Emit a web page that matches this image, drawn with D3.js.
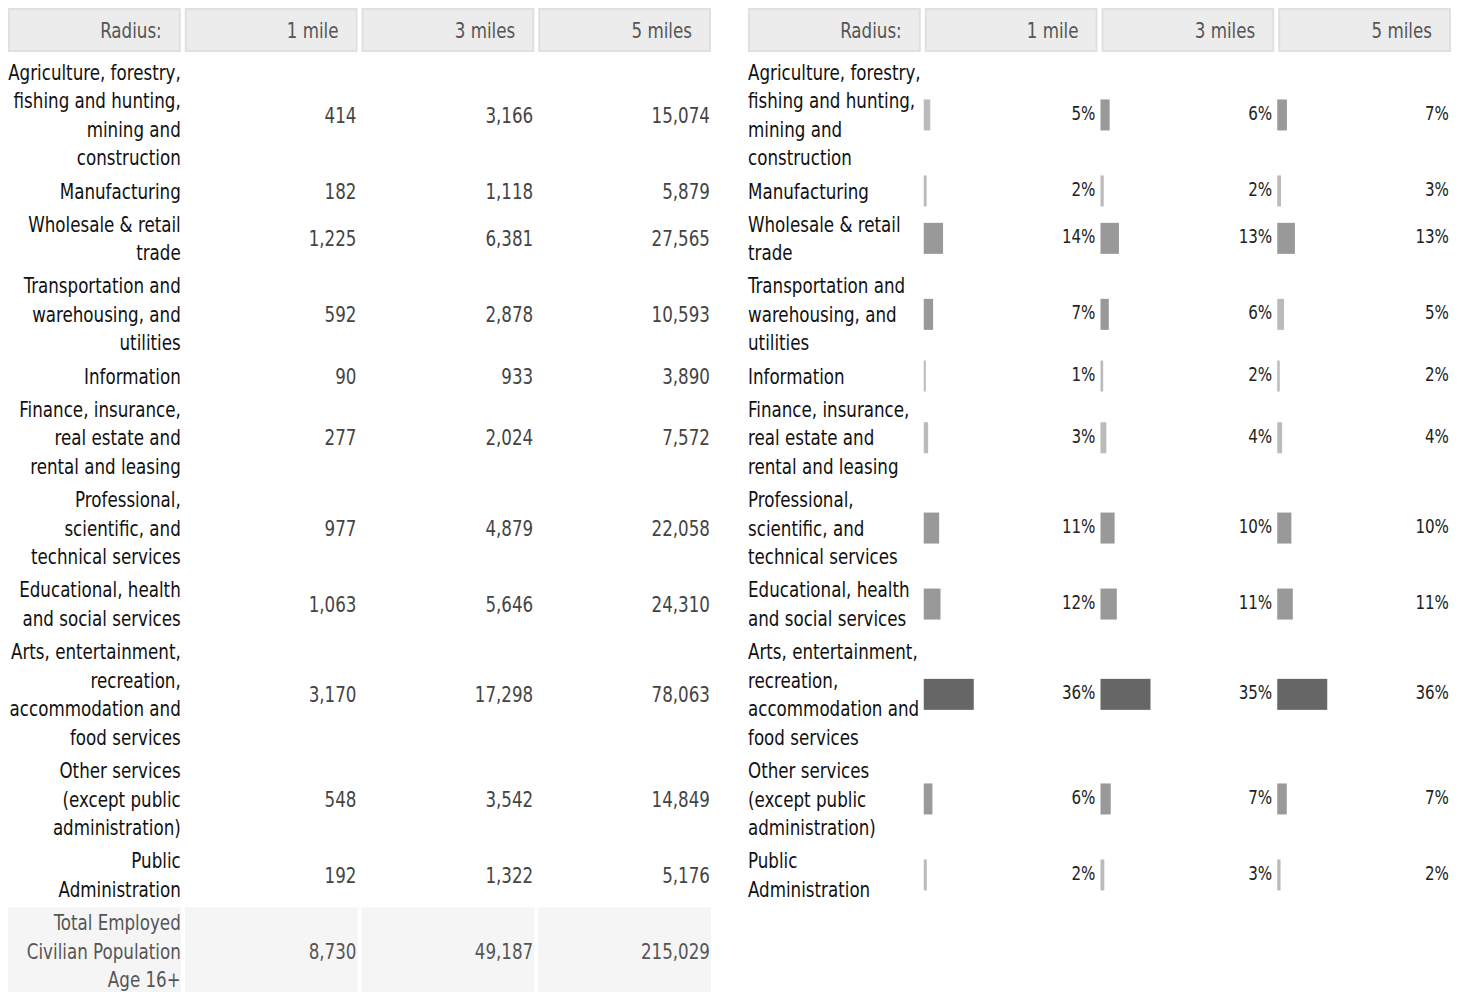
<!DOCTYPE html>
<html>
<head>
<meta charset="utf-8">
<title>Employment by industry</title>
<script src="https://cdn.jsdelivr.net/npm/d3@7"></script>
<style>
    body { margin: 0; background: #fff; }
    svg text { font-family: "DejaVu Sans Condensed", "DejaVu Sans", sans-serif; }
</style>
</head>
<body>
<div id="employment-chart"></div>
<script>
// Employment by industry, counts and shares within each radius

const radii = ["1 mile", "3 miles", "5 miles"];

// "|" marks where the label wraps
const categories = [
    "Agriculture, forestry,|fishing and hunting,|mining and|construction",
    "Manufacturing",
    "Wholesale & retail|trade",
    "Transportation and|warehousing, and|utilities",
    "Information",
    "Finance, insurance,|real estate and|rental and leasing",
    "Professional,|scientific, and|technical services",
    "Educational, health|and social services",
    "Arts, entertainment,|recreation,|accommodation and|food services",
    "Other services|(except public|administration)",
    "Public|Administration"
];

const oneMile = [414, 182, 1225, 592, 90, 277, 977, 1063, 3170, 548, 192];
const threeMiles = [3166, 1118, 6381, 2878, 933, 2024, 4879, 5646, 17298, 3542, 1322];
const fiveMiles = [15074, 5879, 27565, 10593, 3890, 7572, 22058, 24310, 78063, 14849, 5176];

const totalLabel = "Total Employed|Civilian Population|Age 16+";
const totals = [8730, 49187, 215029];

document.addEventListener('DOMContentLoaded', () => {
    initEmploymentChart();
});

function initEmploymentChart() {
    const width = 1462;
    const height = 992;
    const series = [oneMile, threeMiles, fiveMiles];

    const rows = categories.map((c, i) => ({
        lines: c.split("|"),
        values: series.map(s => s[i]),
        shares: series.map((s, j) => s[i] / totals[j] * 100)
    }));

    const svg = d3.select("#employment-chart")
        .append("svg")
        .attr("width", width)
        .attr("height", height)
        .attr("viewBox", [0, 0, width, height]);

    // Columns: label + one per radius
    const cols = ["label", ...radii];
    const x = d3.scaleBand()
        .domain(cols)
        .range([8, 711])
        .paddingInner(0.0226);

    // Row layout: line height and a little padding per row
    const lineH = 28.6;
    const rowPad = 4.5;
    const headerTop = 8, headerH = 44;
    let cursor = headerTop + headerH + 3.5;
    rows.forEach(r => {
        r.top = cursor;
        r.h = r.lines.length * lineH + rowPad;
        r.mid = r.top + r.h / 2;
        cursor += r.h;
    });
    const total = { lines: totalLabel.split("|"), values: totals };
    total.top = cursor + 1.5;
    total.h = total.lines.length * lineH + 4;
    total.mid = total.top + total.h / 2 - 1;

    const fs = 21;
    const squeeze = 0.885; // narrow the face to a condensed look

    // text squeezed horizontally around its anchor point
    function label(g, xPos, yPos, anchor, size, color, txt) {
        return g.append("text")
            .attr("transform", `translate(${xPos},${yPos}) scale(${squeeze},1)`)
            .attr("dy", "0.36em")
            .attr("text-anchor", anchor)
            .style("font-size", size + "px")
            .style("fill", color)
            .text(txt);
    }

    function wrapped(g, lines, xPos, anchor, top, color) {
        g.append("text")
            .attr("transform", `translate(${xPos},${top}) scale(${squeeze},1)`)
            .attr("text-anchor", anchor)
            .style("font-size", fs + "px")
            .style("fill", color)
            .selectAll("tspan")
            .data(lines)
            .join("tspan")
            .attr("x", 0)
            .attr("y", (d, i) => rowPad / 2 + lineH * (i + 0.5))
            .attr("dy", "0.36em")
            .text(d => d);
    }

    function header(g) {
        g.selectAll("rect.head")
            .data(cols)
            .join("rect")
            .attr("class", "head")
            .attr("x", d => x(d) + 1)
            .attr("y", headerTop + 1)
            .attr("width", x.bandwidth() - 2)
            .attr("height", headerH - 2)
            .attr("fill", "#ececec")
            .attr("stroke", "#e0e0e0")
            .attr("stroke-width", 2);

        cols.forEach(c => {
            label(g, x(c) + x.bandwidth() - 19, headerTop + headerH / 2, "end", fs, "#555",
                c === "label" ? "Radius:" : c);
        });
    }

    const fmt = d3.format(",");

    // ---- Left table: counts ----
    const left = svg.append("g");
    header(left);

    rows.forEach(r => {
        const g = left.append("g");
        wrapped(g, r.lines, x("label") + x.bandwidth(), "end", r.top, "#111");
        r.values.forEach((v, j) => {
            label(g, x(radii[j]) + x.bandwidth() - 1, r.mid, "end", fs, "#444", fmt(v));
        });
    });

    // Totals row on a pale band
    const tg = left.append("g");
    tg.selectAll("rect")
        .data(cols)
        .join("rect")
        .attr("x", d => x(d))
        .attr("y", total.top)
        .attr("width", x.bandwidth())
        .attr("height", height - total.top)
        .attr("fill", "#f5f5f5");
    wrapped(tg, total.lines, x("label") + x.bandwidth(), "end", total.top - 1.5, "#555");
    total.values.forEach((v, j) => {
        label(tg, x(radii[j]) + x.bandwidth() - 1, total.mid, "end", fs, "#555", fmt(v));
    });

    // ---- Right table: shares with bars ----
    const right = svg.append("g").attr("transform", "translate(740,0)");
    header(right);

    // bar length scale per radius, largest share -> 50px
    const w = radii.map((r, j) => d3.scaleLinear()
        .domain([0, d3.max(rows, d => d.shares[j])])
        .range([0, 50]));

    const shade = d3.scaleThreshold()
        .domain([5.5, 20])
        .range(["#bbbbbb", "#999999", "#666666"]);

    const barH = 31;
    rows.forEach(r => {
        const g = right.append("g");
        wrapped(g, r.lines, x("label"), "start", r.top, "#111");

        g.selectAll("rect.bar")
            .data(r.shares)
            .join("rect")
            .attr("class", "bar")
            .attr("x", (d, j) => x(radii[j]) - 1)
            .attr("y", r.mid - barH / 2)
            .attr("width", (d, j) => Math.max(2, w[j](d)))
            .attr("height", barH)
            .attr("fill", d => shade(d));

        r.shares.forEach((s, j) => {
            label(g, x(radii[j]) + x.bandwidth() - 2, r.mid - 2, "end", 19, "#222",
                Math.round(s) + "%");
        });
    });
}
</script>
</body>
</html>
